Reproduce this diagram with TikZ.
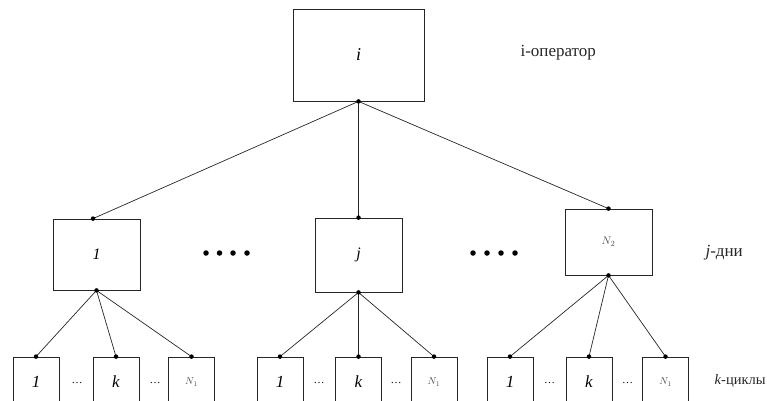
\documentclass[tikz,border=0pt]{standalone}
\usepackage{fontspec}
\setmainfont{Liberation Serif}
\begin{document}
\begin{tikzpicture}[x=1pt,y=-1pt,
  box/.style={draw=black!85,line width=0.8pt,inner sep=0pt,fill=white},
  topbox/.style={box,minimum width=131pt,minimum height=92pt,font=\fontsize{18}{18}\selectfont\itshape},
  midbox/.style={box,minimum width=87pt,font=\fontsize{16}{16}\selectfont\itshape},
  lowbox/.style={box,minimum width=46pt,minimum height=50pt,font=\fontsize{17}{17}\selectfont\itshape},
  edge/.style={draw=black!85,line width=0.7pt},
  pin/.style={fill=black,draw=none,circle,inner sep=0pt,minimum size=4.5pt},
  bigdot/.style={fill=black,draw=none,circle,inner sep=0pt,minimum size=5.5pt},
  gap/.style={font=\fontsize{11}{11}\selectfont},
  lab/.style={font=\fontsize{17}{17}\selectfont,anchor=west,text=black!85}]
\useasboundingbox (0,0) rectangle (767,400);
% top
\node[topbox] (top) at (358.5,55) {i};
\node[lab] (lt) at (517,53) {i-оператор};
% middle
\node[midbox,minimum height=71pt] (m1) at (96.5,254.5) {1};
\node[midbox,minimum height=74pt] (mj) at (358.5,255) {j};
\node[midbox,minimum height=66pt] (mn) at (608.5,242) {\fontsize{11}{11}\selectfont\color{black!70}$N_2$};
\node[lab] (lj) at (702,253) {\textit{j}-дни};
% bottom
\foreach \n/\x/\t in {a1/36/1,ak/116/k,an/191.5/{\fontsize{10}{10}\selectfont\color{black!70}$N_1$},
  b1/280/1,bk/358.5/k,bn/434/{\fontsize{10}{10}\selectfont\color{black!70}$N_1$},
  c1/510/1,ck/589/k,cn/665.5/{\fontsize{10}{10}\selectfont\color{black!70}$N_1$}}
  \node[lowbox] (\n) at (\x,382) {\t};
\node[lab,font=\fontsize{14.5}{14.5}\selectfont] (lk) at (711,381) {\textit{k}-циклы};
% small ellipses
\foreach \n/\x in {ea/77,eb/155,ec/319,ed/396,ee/549.5,ef/627.5}
  \node[gap] (\n) at (\x,383) {\dots};
% big dots
\foreach \i/\x in {1/206,2/219.5,3/233,4/247,5/473,6/487,7/501,8/515}
  \node[bigdot] (d\i) at (\x,253) {};
% connectors
\coordinate (ts) at (top.south);
\coordinate (m1n) at ([xshift=-3.5pt]m1.north);
\coordinate (m1s) at (m1.south);
\draw[edge] (ts) -- (m1n);
\draw[edge] (ts) -- (mj.north);
\draw[edge] (ts) -- (mn.north);
\foreach \p/\c in {m1s/a, mj.south/b, mn.south/c}{
  \draw[edge] (\p) -- (\c1.north);
  \draw[edge] (\p) -- (\c k.north);
  \draw[edge] (\p) -- (\c n.north);
}
\foreach \p in {ts,m1n,m1s,mj.north,mj.south,mn.north,mn.south,
  a1.north,ak.north,an.north,b1.north,bk.north,bn.north,c1.north,ck.north,cn.north}
  \node[pin] at (\p) {};
\end{tikzpicture}
\end{document}
